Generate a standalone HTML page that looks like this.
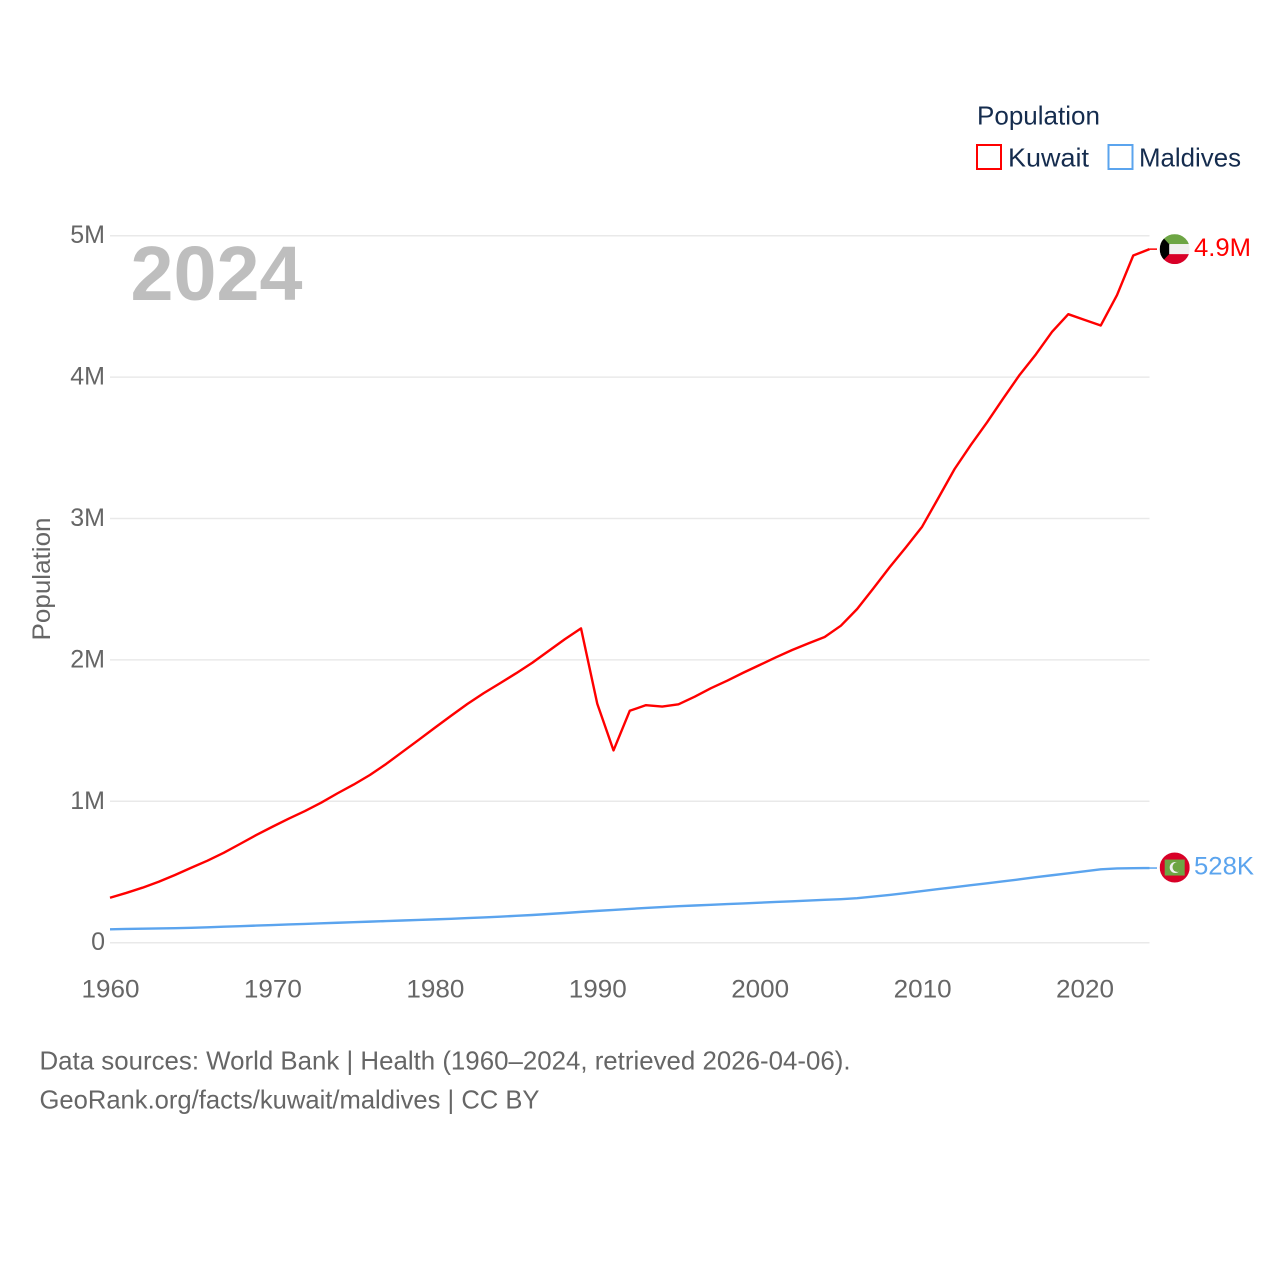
<!DOCTYPE html>
<html lang="en">
<head>
<meta charset="utf-8">
<title>Population: Kuwait and Maldives</title>
<style>
  html, body { margin: 0; padding: 0; background: #fff; }
  #chart { display: block; width: 1280px; height: 1280px; font-family: "Liberation Sans", sans-serif; }
</style>
</head>
<body>
<svg id="chart" xmlns="http://www.w3.org/2000/svg" width="1280" height="1280" viewBox="0 0 1280 1280">
  <defs>
    <clipPath id="flag-clip"><circle cx="0" cy="0" r="15"></circle></clipPath>
  </defs>
  <rect x="0" y="0" width="1280" height="1280" fill="#ffffff"></rect>

  <g id="grid"></g>
  <g id="y-ticks"></g>
  <g id="x-ticks"></g>

  <text x="130.5" y="300" font-size="77" font-weight="700" fill="#bebebe" textLength="172" lengthAdjust="spacingAndGlyphs">2024</text>

  <text transform="translate(50,579) rotate(-90)" text-anchor="middle" font-size="25" fill="#666666" textLength="123" lengthAdjust="spacingAndGlyphs">Population</text>

  <g id="series"></g>
  <g id="endpoints"></g>

  <g>
    <text x="977" y="124.5" font-size="26" fill="#152c4e" textLength="123" lengthAdjust="spacingAndGlyphs">Population</text>
    <g>
      <rect x="977" y="145" width="24" height="24" fill="#ffffff" stroke="#ff0000" stroke-width="2"></rect>
      <text x="1008" y="166.5" font-size="26" fill="#152c4e" textLength="81" lengthAdjust="spacingAndGlyphs">Kuwait</text>
    </g>
    <g>
      <rect x="1108.5" y="145" width="24" height="24" fill="#ffffff" stroke="#5ba4ee" stroke-width="2"></rect>
      <text x="1139" y="166.5" font-size="26" fill="#152c4e" textLength="102" lengthAdjust="spacingAndGlyphs">Maldives</text>
    </g>
  </g>

  <g>
    <text x="39.5" y="1069.5" font-size="26" fill="#666666" textLength="811" lengthAdjust="spacingAndGlyphs">Data sources: World Bank | Health (1960–2024, retrieved 2026-04-06).</text>
    <text x="39.5" y="1108.5" font-size="26" fill="#666666" textLength="500" lengthAdjust="spacingAndGlyphs">GeoRank.org/facts/kuwait/maldives | CC BY</text>
  </g>
</svg>

<script>
// Chart data
const years = [1960,1961,1962,1963,1964,1965,1966,1967,1968,1969,
  1970,1971,1972,1973,1974,1975,1976,1977,1978,1979,
  1980,1981,1982,1983,1984,1985,1986,1987,1988,1989,
  1990,1991,1992,1993,1994,1995,1996,1997,1998,1999,
  2000,2001,2002,2003,2004,2005,2006,2007,2008,2009,
  2010,2011,2012,2013,2014,2015,2016,2017,2018,2019,
  2020,2021,2022,2023,2024];
const kuwaitValues = [0.318,0.352,0.389,0.431,0.479,0.53,0.58,0.636,0.698,0.761,
  0.82,0.877,0.931,0.99,1.056,1.118,1.186,1.264,1.349,1.434,
  1.52,1.605,1.688,1.764,1.834,1.905,1.98,2.063,2.146,2.223,
  1.69,1.36,1.64,1.68,1.67,1.686,1.74,1.80,1.853,1.91,
  1.964,2.018,2.07,2.117,2.162,2.242,2.36,2.506,2.655,2.796,
  2.942,3.145,3.35,3.52,3.68,3.85,4.015,4.16,4.32,4.445,
  4.405,4.365,4.58,4.86,4.905];
const maldivesValues = [0.095,0.097,0.099,0.101,0.103,0.105,0.109,0.113,0.117,0.121,
  0.125,0.129,0.133,0.137,0.141,0.145,0.149,0.153,0.157,0.161,
  0.165,0.169,0.174,0.179,0.184,0.19,0.196,0.203,0.21,0.218,
  0.225,0.232,0.239,0.246,0.252,0.258,0.263,0.268,0.273,0.278,
  0.283,0.288,0.293,0.298,0.303,0.308,0.315,0.326,0.338,0.351,
  0.365,0.379,0.393,0.407,0.42,0.434,0.448,0.463,0.477,0.491,
  0.505,0.519,0.525,0.527,0.528];
const yTickValues = [0,1,2,3,4,5];
const yTickLabels = ["0","1M","2M","3M","4M","5M"];
const xTickValues = [1960,1970,1980,1990,2000,2010,2020];
const xTickLabels = ["1960","1970","1980","1990","2000","2010","2020"];
const kuwaitEndLabel = "4.9M";
const maldivesEndLabel = "528K";

const SVG_NS = "http://www.w3.org/2000/svg";
const plot = { left: 110, right: 1149.5, top: 235.7, bottom: 942.7 };
const xDomain = [1960, 2024];
const yDomain = [0, 5];
function xScale(v) {
  return plot.left + (v - xDomain[0]) / (xDomain[1] - xDomain[0]) * (plot.right - plot.left);
}
function yScale(v) {
  return plot.bottom - (v - yDomain[0]) / (yDomain[1] - yDomain[0]) * (plot.bottom - plot.top);
}
function make(tag, parent, attrs, text) {
  const el = document.createElementNS(SVG_NS, tag);
  for (const k in attrs) el.setAttribute(k, attrs[k]);
  if (text !== undefined) el.textContent = text;
  parent.appendChild(el);
  return el;
}

const gridG = document.getElementById("grid");
const yTickG = document.getElementById("y-ticks");
const xTickG = document.getElementById("x-ticks");
const seriesG = document.getElementById("series");
const endG = document.getElementById("endpoints");

yTickValues.forEach(function (v, i) {
  const line = make("line", gridG, { x1: plot.left, x2: plot.right, y1: yScale(v), y2: yScale(v), stroke: "#e9e9e9", "stroke-width": 1.5 });
  
  
  const label = make("text", yTickG, { x: 105, y: yScale(v) + 7.5, "text-anchor": "end", "font-size": 25, fill: "#666666" }, yTickLabels[i]);
  
  
});

xTickValues.forEach(function (v, i) {
  const label = make("text", xTickG, { x: xScale(v) + 0.5, y: 997.5, "text-anchor": "middle", "font-size": 25, fill: "#666666", textLength: 58, lengthAdjust: "spacingAndGlyphs" }, xTickLabels[i]);
  
  
});

function linePath(values) {
  return values.map(function (v, i) {
    return (i ? "L" : "M") + xScale(years[i]).toFixed(2) + " " + yScale(v).toFixed(2);
  }).join(" ");
}

const kuwaitLine = make("path", seriesG, { d: linePath(kuwaitValues), fill: "none", stroke: "#ff0000", "stroke-width": 2.4, "stroke-linejoin": "round" });


const maldivesLine = make("path", seriesG, { d: linePath(maldivesValues), fill: "none", stroke: "#5ba4ee", "stroke-width": 2.4, "stroke-linejoin": "round" });



// Endpoints: short leader, flag badge and value label follow the last value
const flagX = 1174.7;
const kuwaitLast = yScale(kuwaitValues[kuwaitValues.length - 1]);
const maldivesLast = yScale(maldivesValues[maldivesValues.length - 1]);

const kLeader = make("line", endG, { x1: plot.right, x2: 1157, y1: kuwaitLast, y2: kuwaitLast, stroke: "#ff0000", "stroke-width": 1.5 });


const mLeader = make("line", endG, { x1: plot.right, x2: 1157, y1: maldivesLast, y2: maldivesLast, stroke: "#5ba4ee", "stroke-width": 1.5 });



const kFlag = make("g", endG, { transform: "translate(" + flagX + "," + kuwaitLast + ")", "clip-path": "url(#flag-clip)" });


make("rect", kFlag, { x: -15, y: -15, width: 30, height: 10, fill: "#6da544" });
make("rect", kFlag, { x: -15, y: -5, width: 30, height: 10, fill: "#f0f0f0" });
make("rect", kFlag, { x: -15, y: 5, width: 30, height: 10, fill: "#d80027" });
make("polygon", kFlag, { points: "-15,-15 -5.5,-5 -5.5,5 -15,15", fill: "#000000" });

const mFlag = make("g", endG, { transform: "translate(" + flagX + "," + (maldivesLast - 0.5) + ")", "clip-path": "url(#flag-clip)" });


make("rect", mFlag, { x: -15, y: -15, width: 30, height: 30, fill: "#d80027" });
make("rect", mFlag, { x: -10, y: -8, width: 20, height: 16, fill: "#6da544" });
make("circle", mFlag, { cx: 0.5, cy: 0, r: 5.5, fill: "#f0f0f0" });
make("circle", mFlag, { cx: 2.8, cy: -0.5, r: 5, fill: "#6da544" });

const kLabel = make("text", endG, { x: 1194, y: kuwaitLast + 7, "font-size": 25, fill: "#ff0000", textLength: 57, lengthAdjust: "spacingAndGlyphs" }, kuwaitEndLabel);


const mLabel = make("text", endG, { x: 1194, y: maldivesLast + 6.5, "font-size": 25, fill: "#5ba4ee", textLength: 60, lengthAdjust: "spacingAndGlyphs" }, maldivesEndLabel);


</script>
</body>
</html>
